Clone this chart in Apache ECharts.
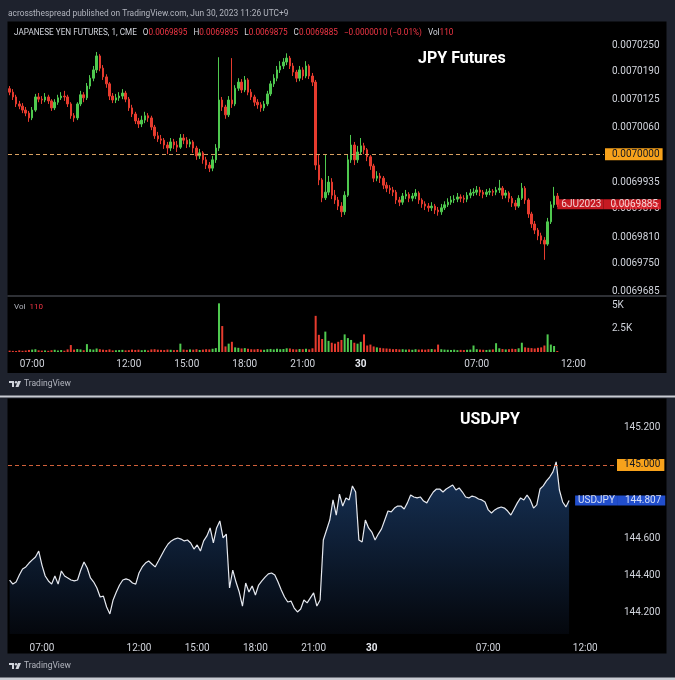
<!DOCTYPE html>
<html><head><meta charset="utf-8">
<script src="https://cdn.jsdelivr.net/npm/echarts@6/dist/echarts.min.js"></script>
<style>html,body{margin:0;padding:0;background:#1e222d;}#c{width:675px;height:680px;}</style>
</head><body><div id="c"></div>
<script>
// ---------- DATA ----------
// JPY futures, 10-minute bars, prices in units of 0.0000001
const jpyFirstOpen = 70150;
const jpyClose = [70142,70131,70115,70110,70101,70094,70083,70101,70131,70126,
 70124,70131,70122,70106,70119,70129,70133,70131,70115,70088,
 70083,70115,70136,70129,70156,70174,70193,70225,70197,70177,
 70161,70133,70124,70129,70133,70140,70126,70106,70092,70076,
 70069,70078,70088,70083,70062,70042,70035,70032,70021,70014,
 70028,70021,70016,70037,70032,70023,70028,70014,69996,70003,
 69987,69975,69968,69987,70014,70124,70108,70090,70124,70115,
 70151,70165,70147,70170,70142,70131,70119,70113,70106,70115,
 70138,70161,70174,70193,70202,70211,70220,70202,70188,70174,
 70193,70179,70202,70179,70165,69975,69941,69900,69913,69936,
 69906,69895,69881,69868,69906,69987,70021,69987,70005,70019,
 70010,69994,69973,69945,69950,69945,69929,69922,69918,69913,
 69895,69890,69904,69908,69899,69904,69911,69895,69886,69881,
 69877,69881,69872,69868,69877,69884,69890,69895,69897,69902,
 69899,69897,69906,69911,69913,69918,69913,69908,69913,69915,
 69913,69918,69922,69906,69911,69899,69888,69881,69899,69922,
 69895,69863,69840,69826,69813,69803,69794,69845,69884,69904,
 69885];
const jpyHigh = [70156,70149,70136,70122,70117,70108,70099,70108,70138,70140,
 70133,70140,70136,70126,70126,70136,70142,70145,70136,70119,
 70094,70119,70145,70142,70163,70181,70202,70234,70229,70204,
 70183,70165,70140,70138,70142,70149,70145,70131,70113,70097,
 70083,70088,70097,70094,70088,70067,70051,70044,70037,70028,
 70037,70035,70030,70046,70046,70039,70035,70032,70019,70012,
 70007,69994,69982,69996,70023,70222,70131,70113,70133,70220,
 70158,70174,70172,70179,70174,70149,70136,70126,70119,70122,
 70145,70168,70183,70202,70213,70220,70231,70225,70209,70193,
 70202,70199,70213,70206,70186,70170,69998,69945,69998,69950,
 69945,69918,69902,69890,69915,69998,70044,70028,70019,70037,
 70026,70014,69998,69978,69961,69957,69950,69936,69929,69925,
 69918,69902,69911,69918,69913,69911,69920,69915,69899,69892,
 69888,69890,69886,69879,69886,69892,69899,69904,69906,69911,
 69908,69906,69913,69920,69922,69927,69925,69918,69920,69922,
 69920,69925,69941,69927,69918,69915,69904,69895,69906,69934,
 69927,69899,69868,69847,69831,69820,69810,69854,69892,69925,
 69911];
const jpyLow = [70135,70124,70108,70103,70094,70087,70074,70078,70097,70119,
 70115,70119,70115,70099,70101,70113,70124,70122,70108,70081,
 70074,70078,70110,70119,70124,70149,70167,70186,70190,70170,
 70152,70124,70117,70117,70122,70126,70119,70099,70085,70069,
 70060,70062,70071,70074,70055,70035,70028,70023,70012,70000,
 70007,70012,70005,70012,70023,70014,70016,70003,69987,69989,
 69978,69966,69959,69961,69980,70007,70099,70081,70085,70106,
 70110,70145,70140,70142,70135,70124,70110,70104,70097,70099,
 70110,70133,70154,70167,70186,70195,70204,70195,70179,70165,
 70167,70170,70174,70172,70156,69964,69929,69890,69895,69906,
 69897,69886,69872,69856,69861,69902,69980,69975,69980,69998,
 70000,69984,69964,69936,69938,69934,69920,69913,69909,69904,
 69886,69881,69884,69897,69890,69892,69897,69886,69877,69872,
 69868,69870,69863,69859,69861,69872,69879,69884,69888,69890,
 69890,69888,69890,69899,69904,69906,69904,69899,69902,69906,
 69904,69906,69911,69897,69899,69890,69879,69872,69877,69895,
 69886,69854,69831,69817,69803,69794,69758,69790,69840,69877,
 69879];
const jpyVolume = [150,120,110,180,130,160,220,260,300,180,
 150,170,130,190,240,160,210,140,280,750,
 260,320,280,190,850,300,260,380,300,250,
 220,280,170,190,210,230,180,200,260,220,
 250,190,230,170,280,300,250,230,210,260,
 240,200,220,900,260,230,280,250,300,220,
 260,300,280,350,420,5250,2800,600,900,1100,
 500,450,380,420,350,300,280,320,260,240,
 300,330,280,350,300,320,400,380,300,280,
 320,300,350,280,400,3900,1850,1400,2200,1200,
 1000,900,1100,1300,1900,1500,1300,1000,900,1100,
 1900,700,800,600,500,450,400,380,350,300,
 320,280,300,260,280,240,300,260,280,250,
 300,320,280,800,300,260,240,220,250,200,
 230,210,240,260,700,300,260,240,220,250,
 280,950,400,320,280,300,350,320,400,1000,
 500,450,420,380,450,500,700,1900,800,650,
 110];
// USDJPY, 10-minute closes
const usdjpy = [144.376,144.354,144.365,144.403,144.436,144.447,144.468,144.485,144.501,144.533,
 144.457,144.398,144.371,144.354,144.398,144.354,144.425,144.398,144.387,144.376,
 144.371,144.376,144.430,144.474,144.441,144.387,144.365,144.333,144.284,144.289,
 144.230,144.192,144.268,144.311,144.349,144.376,144.382,144.376,144.360,144.354,
 144.414,144.447,144.468,144.479,144.463,144.447,144.479,144.512,144.544,144.571,
 144.588,144.598,144.604,144.598,144.588,144.593,144.577,144.544,144.566,144.533,
 144.588,144.615,144.658,144.577,144.658,144.696,144.604,144.625,144.333,144.430,
 144.365,144.311,144.235,144.360,144.311,144.344,144.295,144.349,144.371,144.392,
 144.409,144.414,144.403,144.365,144.322,144.284,144.257,144.262,144.224,144.203,
 144.219,144.268,144.252,144.279,144.306,144.235,144.268,144.593,144.647,144.701,
 144.810,144.728,144.842,144.777,144.821,144.810,144.886,144.853,144.593,144.582,
 144.701,144.658,144.636,144.593,144.625,144.653,144.701,144.750,144.745,144.766,
 144.777,144.777,144.761,144.794,144.837,144.826,144.821,144.826,144.804,144.794,
 144.826,144.853,144.869,144.869,144.853,144.869,144.880,144.891,144.864,144.875,
 144.853,144.826,144.821,144.831,144.826,144.815,144.810,144.799,144.756,144.739,
 144.756,144.766,144.772,144.766,144.750,144.728,144.761,144.794,144.821,144.810,
 144.837,144.810,144.766,144.783,144.869,144.886,144.913,144.934,144.962,145.016,
 144.864,144.799,144.772,144.807];
const jpyTickLabels = ['0.0069685','0.0069750','0.0069810','0.0069875','0.0069935','0.0070060','0.0070125','0.0070190','0.0070250'];
const volTickLabels = ['2.5K','5K'];
const volTickValues = [2500,5000];
const usdTickLabels = ['144.200','144.400','144.600','145.200'];
const timeTickLabels = {'29 07:00':'07:00','29 12:00':'12:00','29 15:00':'15:00','29 18:00':'18:00','29 21:00':'21:00','30 00:00':'30','30 07:00':'07:00','30 12:00':'12:00'};
const jpyLevel = '0.0070000';
const usdLevel = '145.000';
const jpyLast = '0.0069885';
const usdLast = '144.807';

// ---------- AXIS CATEGORIES (10-minute slots, 06:00-07:00 break skipped) ----------
function pad(n){return (n<10?'0':'')+n;}
function buildTimes(h0, m0, count){
  const out=[]; let day=29, m=h0*60+m0;
  while(out.length<count){
    const h=Math.floor(m/60);
    if(h!==6) out.push(day+' '+pad(h)+':'+pad(m%60));
    m+=10; if(m>=1440){m-=1440; day++;}
  }
  return out;
}
const topTimes = buildTimes(4,50,185);
const botTimes = buildTimes(4,20,188);

const UP='#4fc94f', DOWN='#e63b2e';
const candles = jpyClose.map((c,i)=>{
  const o = i===0 ? jpyFirstOpen : jpyClose[i-1];
  return [o/1e7, c/1e7, jpyLow[i]/1e7, jpyHigh[i]/1e7];
});
const vols = jpyVolume.map((v,i)=>{
  const o = i===0 ? jpyFirstOpen : jpyClose[i-1];
  return {value:v, itemStyle:{color: jpyClose[i]>=o?UP:DOWN}};
});

const FONT='Roboto';
const axisText={color:'#d1d4dc',fontSize:10,fontFamily:FONT};
const timeLabel = (margin)=>({
  show:true, ...axisText, margin:margin,
  interval:(idx,val)=>timeTickLabels.hasOwnProperty(val),
  formatter:(val)=>{const t=timeTickLabels[val]; return t==='30'?'{b|30}':t;},
  rich:{b:{fontWeight:'bold',color:'#e6e8ee',fontSize:10,fontFamily:FONT}}
});
const RED_LBL='#f7202b', BLUE_LBL='#2962ff', ORANGE_LBL='#f7a21b';
const TOP_DASH='#d8a060', BOT_DASH='#d0603a';

const chart = echarts.init(document.getElementById('c'), null, {renderer:'canvas'});
chart.setOption({
  backgroundColor:'#1e222d',
  animation:false,
  grid:[
    {left:8, right:71, top:21, height:274},
    {left:8, right:71, top:297, height:55},
    {left:8, right:59, top:399, height:235}
  ],
  xAxis:[
    {type:'category', gridIndex:0, data:topTimes, show:false, boundaryGap:true},
    {type:'category', gridIndex:1, data:topTimes, boundaryGap:true, axisLine:{show:false}, axisTick:{show:false}, axisLabel:timeLabel(7), splitLine:{show:false}},
    {type:'category', gridIndex:2, data:botTimes, boundaryGap:true, axisLine:{show:false}, axisTick:{show:false}, axisLabel:timeLabel(9), splitLine:{show:false}}
  ],
  yAxis:[
    {type:'value', gridIndex:0, position:'right', min:0.00696774, max:0.00703050, scale:true,
     axisLine:{show:false}, axisTick:{show:false}, splitLine:{show:false},
     axisLabel:{...axisText, margin:8, customValues:jpyTickLabels.map(Number), formatter:(v)=>v.toFixed(7)}},
    {type:'value', gridIndex:1, position:'right', min:0, max:5933,
     axisLine:{show:false}, axisTick:{show:false}, splitLine:{show:false},
     axisLabel:{...axisText, margin:8, customValues:volTickValues, formatter:(v)=>volTickLabels[volTickValues.indexOf(v)]||''}},
    {type:'value', gridIndex:2, position:'right', min:144.0835, max:145.357, scale:true,
     axisLine:{show:false}, axisTick:{show:false}, splitLine:{show:false},
     axisLabel:{...axisText, margin:8, customValues:usdTickLabels.map(Number), formatter:(v)=>v.toFixed(3)}}
  ],
  series:[
    {type:'candlestick', name:'JPY Futures', xAxisIndex:0, yAxisIndex:0, data:candles, barWidth:'62%',
     itemStyle:{color:UP, color0:DOWN, borderColor:UP, borderColor0:DOWN, borderWidth:1}},
    {type:'scatter', xAxisIndex:0, yAxisIndex:0, data:[[jpyClose.length-1, Number(jpyLast)]], symbolSize:0, silent:true, clip:false, z:5,
     label:{show:true, position:'right', distance:0, formatter:'{a|6JU2023}{b|'+jpyLast+'}',
       rich:{a:{backgroundColor:RED_LBL,color:'#fff',fontSize:10,fontFamily:FONT,lineHeight:12,padding:[0,2,0,4]},
             b:{backgroundColor:RED_LBL,color:'#fff',fontSize:10,fontFamily:FONT,lineHeight:12,padding:[0,3,0,7]}}},
     markLine:{silent:true, symbol:'none', animation:false, precision:7,
       itemStyle:{color:TOP_DASH},
       lineStyle:{color:TOP_DASH, type:[4,3], width:1, opacity:1},
       label:{show:true, position:'end', distance:1, formatter:jpyLevel, backgroundColor:ORANGE_LBL, color:'#131722',
              fontSize:10, fontFamily:FONT, lineHeight:12, padding:[0,3,0,7]},
       data:[{yAxis:Number(jpyLevel), lineStyle:{color:TOP_DASH}}]}},
    {type:'bar', name:'Vol', xAxisIndex:1, yAxisIndex:1, data:vols, barWidth:'62%'},
    {type:'line', name:'USDJPY', xAxisIndex:2, yAxisIndex:2, data:usdjpy, symbol:'none', smooth:false, z:3,
     lineStyle:{color:'#e6e9f0', width:1.2},
     areaStyle:{color:new echarts.graphic.LinearGradient(0,0,0,1,[{offset:0,color:'#21497f'},{offset:1,color:'#060a12'}])}},
    {type:'scatter', xAxisIndex:2, yAxisIndex:2, data:[[usdjpy.length-1, Number(usdLast)]], symbolSize:0, silent:true, clip:false, z:5,
     label:{show:true, position:'right', distance:6, formatter:'{a|USDJPY}{b|'+usdLast+'}',
       rich:{a:{backgroundColor:BLUE_LBL,color:'#fff',fontSize:10,fontFamily:FONT,lineHeight:12,padding:[0,3,0,3]},
             b:{backgroundColor:BLUE_LBL,color:'#fff',fontSize:10,fontFamily:FONT,lineHeight:12,padding:[0,4,0,7]}}},
     markLine:{silent:true, symbol:'none', animation:false, precision:3,
       lineStyle:{color:BOT_DASH, type:[4,3], width:1, opacity:1},
       label:{show:true, position:'end', distance:1, formatter:usdLevel, backgroundColor:ORANGE_LBL, color:'#131722',
              fontSize:10, fontFamily:FONT, lineHeight:12, padding:[0,4,0,7]},
       data:[[{coord:[botTimes[0], Number(usdLevel)], x:8}, {coord:[botTimes[botTimes.length-1], Number(usdLevel)], x:616,
              lineStyle:{color:BOT_DASH}}]]}}
  ],
  graphic:[
    {type:'rect', z:-10, silent:true, shape:{x:7.5,y:21.5,width:659,height:351.5}, style:{fill:'#000'}},
    {type:'rect', z:-10, silent:true, shape:{x:7.5,y:398.5,width:659,height:255}, style:{fill:'#000'}},
    {type:'rect', z:-5, silent:true, shape:{x:0,y:395.5,width:675,height:2}, style:{fill:'#c9ccd3'}},
    {type:'rect', z:-5, silent:true, shape:{x:0,y:677.5,width:675,height:2.5}, style:{fill:'#c9ccd3'}},
    {type:'rect', z:-5, silent:true, shape:{x:7.5,y:295.5,width:659,height:1}, style:{fill:'#5d606b'}},
    {type:'text', z:50, silent:true, style:{x:8, y:14, verticalAlign:'middle', text:'acrossthespread published on TradingView.com, Jun 30, 2023 11:26 UTC+9', fill:'#b2b5be', font:'8.4px Roboto'}},
    {type:'text', z:50, silent:true, style:{x:14, y:33, verticalAlign:'middle', font:'8.2px Roboto',
      text:'{w|JAPANESE YEN FUTURES, 1, CME}{s| }{w|O}{r|0.0069895}{s| }{w|H}{r|0.0069895}{s| }{w|L}{r|0.0069875}{s| }{w|C}{r|0.0069885}{s| }{r|\u22120.0000010 (\u22120.01%)}{s| }{w|Vol}{r|110}',
      rich:{w:{fill:'#d1d4dc',font:'8.2px Roboto'}, r:{fill:'#f23645',font:'8.2px Roboto'}, s:{width:6,font:'8.2px Roboto'}}}},
    {type:'text', z:50, silent:true, style:{x:14, y:307, verticalAlign:'middle', font:'8px Roboto',
      text:'{w|Vol}{s| }{r|110}', rich:{w:{fill:'#b2b5be',font:'8px Roboto'}, r:{fill:'#f23645',font:'8px Roboto'}, s:{width:4,font:'8px Roboto'}}}},
    {type:'text', z:50, silent:true, style:{x:418, y:59, verticalAlign:'middle', text:'JPY Futures', fill:'#ffffff', font:'bold 16px Roboto'}},
    {type:'text', z:50, silent:true, style:{x:460, y:420, verticalAlign:'middle', text:'USDJPY', fill:'#ffffff', font:'bold 16px Roboto'}},
    {type:'group', z:50, silent:true, x:9, y:381, children:[
      {type:'rect', shape:{x:0,y:0,width:5,height:2}, style:{fill:'#d1d4dc'}},
      {type:'rect', shape:{x:3,y:0,width:2,height:6}, style:{fill:'#d1d4dc'}},
      {type:'circle', shape:{cx:7,cy:1.2,r:1.2}, style:{fill:'#d1d4dc'}},
      {type:'polygon', shape:{points:[[9,0],[12,0],[9.5,6],[6.5,6]]}, style:{fill:'#d1d4dc'}}
    ]},
    {type:'text', z:50, silent:true, style:{x:24, y:384, verticalAlign:'middle', text:'TradingView', fill:'#b2b5be', font:'8.5px Roboto'}},
    {type:'group', z:50, silent:true, x:9, y:663, children:[
      {type:'rect', shape:{x:0,y:0,width:5,height:2}, style:{fill:'#d1d4dc'}},
      {type:'rect', shape:{x:3,y:0,width:2,height:6}, style:{fill:'#d1d4dc'}},
      {type:'circle', shape:{cx:7,cy:1.2,r:1.2}, style:{fill:'#d1d4dc'}},
      {type:'polygon', shape:{points:[[9,0],[12,0],[9.5,6],[6.5,6]]}, style:{fill:'#d1d4dc'}}
    ]},
    {type:'text', z:50, silent:true, style:{x:24, y:666, verticalAlign:'middle', text:'TradingView', fill:'#b2b5be', font:'8.5px Roboto'}}
  ]
});
</script></body></html>
